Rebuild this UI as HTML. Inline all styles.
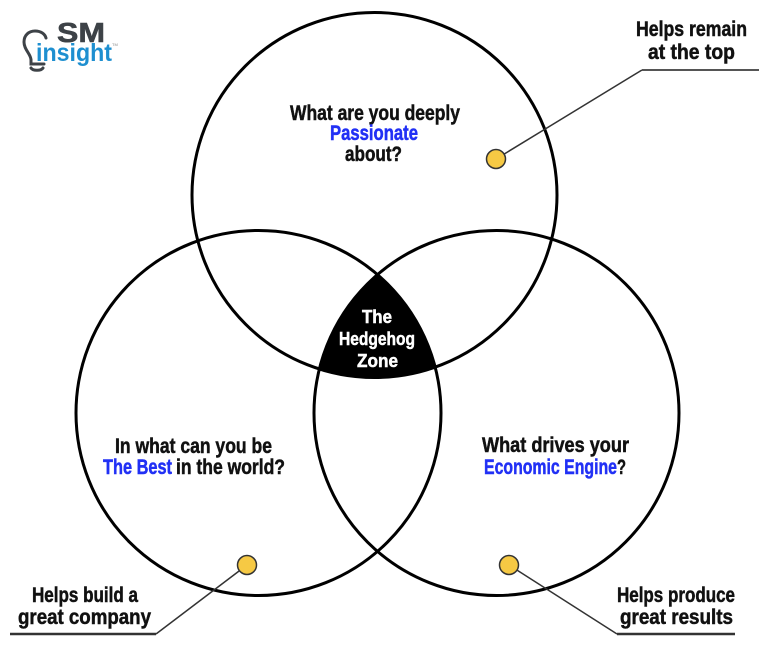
<!DOCTYPE html>
<html><head><meta charset="utf-8"><style>
html,body{margin:0;padding:0;background:#fff;}
svg{display:block;}
.h{font-family:"Liberation Sans Narrow","Liberation Sans",sans-serif;font-weight:bold;font-size:21px;fill:#111;stroke:#111;stroke-width:0.5;}
.b{fill:#2130f5;stroke:#2130f5;}
.w{fill:#fff;stroke:#fff;font-size:18px;}
</style></head><body>
<svg width="768" height="652" viewBox="0 0 768 652" xmlns="http://www.w3.org/2000/svg">
<rect width="768" height="652" fill="#fff"/>
<!-- hedgehog zone -->
<path d="M377.5 274.6 A182.5 182.5 0 0 0 319.3 369 A182.5 182.5 0 0 0 435.2 367.1 A182.5 182.5 0 0 0 377.5 274.6 Z" fill="#000"/>
<!-- circles -->
<g fill="none" stroke="#000" stroke-width="3">
<circle cx="374.5" cy="195" r="182.5"/>
<circle cx="258.5" cy="413" r="182.5"/>
<circle cx="496.5" cy="413" r="182.5"/>
</g>
<!-- connectors -->
<g stroke="#333" fill="none">
<line x1="496" y1="159" x2="642" y2="70" stroke-width="1.5"/>
<line x1="642" y1="70" x2="759" y2="70" stroke-width="2" stroke="#555"/>
<line x1="247" y1="565" x2="156" y2="634" stroke-width="1.5"/>
<line x1="10" y1="634" x2="156" y2="634" stroke-width="2.5"/>
<line x1="509" y1="565" x2="617" y2="634" stroke-width="1.5"/>
<line x1="617" y1="634" x2="735" y2="634" stroke-width="2.5"/>
</g>
<g fill="#f6c944" stroke="#333" stroke-width="1.5">
<circle cx="496" cy="159" r="9.5"/>
<circle cx="247" cy="565" r="9.5"/>
<circle cx="509" cy="565" r="9.5"/>
</g>
<!-- top circle text -->
<text class="h" x="290" y="120" textLength="170" lengthAdjust="spacingAndGlyphs">What are you deeply</text>
<text class="h b" x="330" y="140" textLength="88" lengthAdjust="spacingAndGlyphs">Passionate</text>
<text class="h" x="345" y="161" textLength="57" lengthAdjust="spacingAndGlyphs">about?</text>
<!-- left circle -->
<text class="h" x="115" y="453" textLength="157" lengthAdjust="spacingAndGlyphs">In what can you be</text>
<text class="h b" x="103" y="474" textLength="69" lengthAdjust="spacingAndGlyphs">The Best</text>
<text class="h" x="176" y="474" textLength="109" lengthAdjust="spacingAndGlyphs">in the world?</text>
<!-- right circle -->
<text class="h" x="482" y="452" textLength="147" lengthAdjust="spacingAndGlyphs">What drives your</text>
<text class="h b" x="484" y="474" textLength="133" lengthAdjust="spacingAndGlyphs">Economic Engine</text>
<text class="h" x="617" y="474" textLength="9" lengthAdjust="spacingAndGlyphs">?</text>
<!-- hedgehog -->
<text class="h w" x="362" y="323" textLength="30" lengthAdjust="spacingAndGlyphs">The</text>
<text class="h w" x="339" y="345" textLength="76" lengthAdjust="spacingAndGlyphs">Hedgehog</text>
<text class="h w" x="357" y="367" textLength="41" lengthAdjust="spacingAndGlyphs">Zone</text>
<!-- labels -->
<text class="h" x="636" y="36" textLength="111" lengthAdjust="spacingAndGlyphs">Helps remain</text>
<text class="h" x="648" y="59" textLength="87" lengthAdjust="spacingAndGlyphs">at the top</text>
<text class="h" x="32" y="602" textLength="106" lengthAdjust="spacingAndGlyphs">Helps build a</text>
<text class="h" x="18" y="624" textLength="133" lengthAdjust="spacingAndGlyphs">great company</text>
<text class="h" x="617" y="602" textLength="118" lengthAdjust="spacingAndGlyphs">Helps produce</text>
<text class="h" x="620" y="624" textLength="113" lengthAdjust="spacingAndGlyphs">great results</text>
<!-- logo -->
<g fill="none" stroke="#3d4247" stroke-width="3" stroke-linecap="round">
<path d="M31 60 C31 54 24 50 24 42 C24 35 29 31 35 31 C41 31 45 34 46 38"/>
<path d="M31 60 L31 64 L44 64"/>
<path d="M31 68 C33 71 41 71 43 68"/>
</g>
<text x="57" y="42" font-family="Liberation Sans, sans-serif" font-weight="bold" font-size="28" fill="#3d4247" stroke="#3d4247" stroke-width="0.6" textLength="48" lengthAdjust="spacingAndGlyphs">SM</text>
<text x="36" y="61" font-family="Liberation Sans, sans-serif" font-weight="bold" font-size="25" fill="#1e8fd0" textLength="76" lengthAdjust="spacingAndGlyphs">insight</text>
<text x="112" y="46" font-family="Liberation Sans, sans-serif" font-size="4" fill="#888">TM</text>
</svg>
</body></html>
